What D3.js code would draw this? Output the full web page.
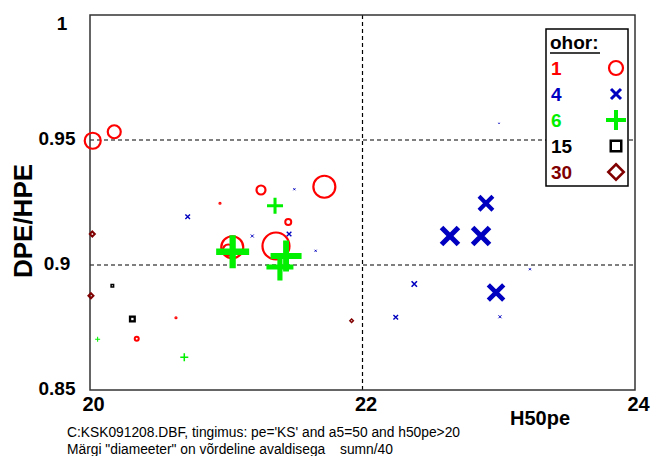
<!DOCTYPE html>
<html>
<head>
<meta charset="utf-8">
<script src="https://cdn.jsdelivr.net/npm/d3@7"></script>
<style>
  body { margin: 0; background: #fff; }
  svg { font-family: "Liberation Sans", Arial, sans-serif; }
</style>
</head>
<body>
<div id="chart"></div>
<script>
// ohor 1 - circles
var x1 = [20.02, 20.178, 21.255, 21.72, 20.954, 21.455, 21.044, 21.015, 21.365, 20.631, 20.343];
var y1 = [0.9497, 0.9533, 0.930, 0.9313, 0.9247, 0.9172, 0.9071, 0.906, 0.9076, 0.8789, 0.8705];
var d1 = [18, 15, 11, 24, 3, 8, 24, 13, 29, 1.5, 6];
// ohor 4 - crosses
var x4 = [22.642, 22.870, 22.906, 22.98, 22.380, 22.244, 23.009, 23.002, 23.229, 20.717, 21.5, 21.191, 21.461, 21.656];
var y4 = [0.9116, 0.9116, 0.9247, 0.889, 0.8924, 0.8791, 0.8793, 0.9567, 0.8983, 0.9193, 0.9303, 0.9116, 0.9124, 0.9057];
var d4 = [22, 22, 18, 20, 7, 6, 4, 2, 3, 6, 3, 4, 6, 3];
// ohor 6 - plus
var x6 = [21.358, 21.047, 21.439, 21.394, 20.056, 20.692];
var y6 = [0.9237, 0.9053, 0.9036, 0.8992, 0.8703, 0.8631];
var d6 = [16, 33, 31, 27, 5, 8];
// ohor 15 - squares
var x15 = [20.164, 20.311];
var y15 = [0.8917, 0.8784];
var d15 = [4, 7];
// ohor 30 - diamonds
var x30 = [20.017, 20.007, 21.92];
var y30 = [0.9124, 0.8877, 0.8777];
var d30 = [7, 7, 5];

var xTicks = [20, 22, 24];
var yTicks = [0.85, 0.9, 0.95, 1];
var gridX = [22];
var gridY = [0.9, 0.95];
var legendLabels = ["1", "4", "6", "15", "30"];
var colors = ["#ff0000", "#0000c0", "#00f000", "#000000", "#800000"];
var shapes = ["circle", "cross", "plus", "square", "diamond"];

var W = 662, H = 456;
var margin = {top: 15, right: 27, bottom: 66, left: 90},
    width = W - margin.left - margin.right,
    height = H - margin.top - margin.bottom;

var svg = d3.select("#chart").append("svg")
    .attr("width", W).attr("height", H);
var g = svg.append("g")
    .attr("transform", "translate(" + margin.left + "," + margin.top + ")");

var x = d3.scaleLinear().domain([20, 24]).range([0, width]);
var y = d3.scaleLinear().domain([0.85, 1]).range([height, 0]);

// dashed grid lines
g.selectAll(".gy").data(gridY).enter().append("line")
  .attr("x1", 0).attr("x2", width)
  .attr("y1", function(d) { return y(d); }).attr("y2", function(d) { return y(d); })
  .attr("stroke", "#000").attr("stroke-width", 1.2).attr("stroke-dasharray", "4,3");
g.selectAll(".gx").data(gridX).enter().append("line")
  .attr("y1", 0).attr("y2", height)
  .attr("x1", function(d) { return x(d); }).attr("x2", function(d) { return x(d); })
  .attr("stroke", "#000").attr("stroke-width", 1.2).attr("stroke-dasharray", "4,3");

// axes (labels only)
var yAxis = g.append("g")
  .call(d3.axisLeft(y).tickValues(yTicks).tickSize(0).tickFormat(d3.format("")));
yAxis.select(".domain").remove();
yAxis.selectAll("text")
  .attr("x", -33)
  .attr("dy", function(d) { return d === 1 ? "0.75em" : "0.22em"; })
  .attr("dx", function(d) { return d === 1 ? 5 : 0; })
  .style("text-anchor", "middle")
  .style("font-family", "Liberation Sans, Arial, sans-serif")
  .style("font-size", "19px").style("font-weight", "bold").style("fill", "#000");

var xAxis = g.append("g")
  .attr("transform", "translate(0," + height + ")")
  .call(d3.axisBottom(x).tickValues(xTicks).tickSize(0).tickFormat(d3.format("d")));
xAxis.select(".domain").remove();
xAxis.selectAll("text")
  .attr("y", 0).attr("dy", "1.05em").attr("dx", 3)
  .style("font-family", "Liberation Sans, Arial, sans-serif")
  .style("font-size", "20px").style("font-weight", "bold").style("fill", "#000");

// frame
g.append("rect")
  .attr("width", width).attr("height", height)
  .attr("fill", "none").attr("stroke", "#333").attr("stroke-width", 1.5);

// marker drawing
function drawMarker(sel, shape, color, size, legend) {
  var s = size / 2;
  if (shape === "circle") {
    sel.append("circle").attr("r", Math.max(s - 1, 0.6))
      .attr("fill", size < 4 ? color : "none").attr("stroke", color)
      .attr("stroke-width", size < 10 ? 2 : 2.2);
  } else if (shape === "cross") {
    var sw = legend ? 3 : Math.max(1, size * 0.23);
    var a = s - sw / 2;
    sel.append("path").attr("d", "M" + (-a) + "," + (-a) + "L" + a + "," + a + "M" + (-a) + "," + a + "L" + a + "," + (-a))
      .attr("stroke", color).attr("stroke-width", sw).attr("fill", "none");
  } else if (shape === "plus") {
    var sw2 = legend ? 4 : Math.max(1, size * 0.19);
    sel.append("path").attr("d", "M" + (-s) + ",0L" + s + ",0M0," + (-s) + "L0," + s)
      .attr("stroke", color).attr("stroke-width", sw2).attr("fill", "none");
  } else if (shape === "square") {
    var sw3 = legend ? 2.5 : Math.max(1.5, size / 3);
    var b = s - sw3 / 2;
    sel.append("rect").attr("x", -b).attr("y", -b).attr("width", 2 * b).attr("height", 2 * b)
      .attr("fill", "none").attr("stroke", color).attr("stroke-width", sw3);
  } else if (shape === "diamond") {
    var sw4 = legend ? 2.5 : Math.max(1.5, size / 3.5);
    var c = s - sw4 / 2;
    sel.append("path").attr("d", "M0," + (-c) + "L" + c + ",0L0," + c + "L" + (-c) + ",0Z")
      .attr("fill", "none").attr("stroke", color).attr("stroke-width", sw4);
  }
}

var series = [
  {xs: x1, ys: y1, ds: d1},
  {xs: x4, ys: y4, ds: d4},
  {xs: x6, ys: y6, ds: d6},
  {xs: x15, ys: y15, ds: d15},
  {xs: x30, ys: y30, ds: d30}
];

series.forEach(function(sr, i) {
  var pts = sr.xs.map(function(v, k) { return {x: v, y: sr.ys[k], d: sr.ds[k]}; });
  g.append("g").selectAll("g").data(pts).enter().append("g")
    .attr("transform", function(d) { return "translate(" + x(d.x) + "," + y(d.y) + ")"; })
    .each(function(d) { drawMarker(d3.select(this), shapes[i], colors[i], d.d, false); });
});

// legend
var lg = svg.append("g").attr("transform", "translate(546,29)");
lg.append("rect").attr("width", 82).attr("height", 157)
  .attr("fill", "#fff").attr("stroke", "#000").attr("stroke-width", 1.5);
lg.append("text").attr("x", 4).attr("y", 20)
  .style("font-size", "19px").style("font-weight", "bold").text("ohor:");
lg.append("line").attr("x1", 4).attr("x2", 54).attr("y1", 24).attr("y2", 24)
  .attr("stroke", "#000").attr("stroke-width", 1.5);
var legendSizes = [16, 13, 20, 13, 18];
legendLabels.forEach(function(t, i) {
  var yy = 39 + i * 26;
  lg.append("text").attr("x", 5).attr("y", yy + 7)
    .style("font-size", "19px").style("font-weight", "bold")
    .style("fill", colors[i]).text(t);
  var m = lg.append("g").attr("transform", "translate(70," + yy + ")");
  drawMarker(m, shapes[i], colors[i], legendSizes[i], true);
});

// axis titles
svg.append("text")
  .attr("transform", "translate(32,221) rotate(-90)")
  .style("text-anchor", "middle")
  .style("font-size", "26px").style("font-weight", "bold")
  .text("DPE/HPE");
svg.append("text")
  .attr("x", 540).attr("y", 425)
  .style("text-anchor", "middle")
  .style("font-size", "20px").style("font-weight", "bold")
  .text("H50pe");

// footer notes
svg.append("text").attr("x", 67).attr("y", 437)
  .style("font-size", "13.8px")
  .text("C:KSK091208.DBF, tingimus: pe='KS' and a5=50 and h50pe>20");
svg.append("text").attr("x", 67).attr("y", 454)
  .style("font-size", "13.8px")
  .text("Märgi \"diameeter\" on võrdeline avaldisega");
svg.append("text").attr("x", 340).attr("y", 454)
  .style("font-size", "13.8px")
  .text("sumn/40");
</script>
</body>
</html>
